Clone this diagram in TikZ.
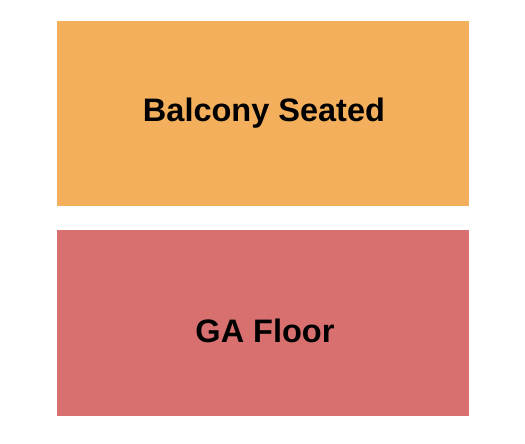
\documentclass[tikz,border=0pt]{standalone}
\usepackage{fontspec}
\setmainfont{Liberation Sans}
\definecolor{balc}{HTML}{F4AF5C}
\definecolor{floor}{HTML}{D87070}
\begin{document}
\begin{tikzpicture}[x=1pt,y=-1pt]
\tikzset{sect/.style={fill=#1,draw=none},
  lbl/.style={font=\bfseries\fontsize{32.5}{36}\selectfont,text=black,inner sep=0pt,anchor=base}}
\useasboundingbox (0,0) rectangle (525,444);
\fill[balc] (57,21) rectangle (469,206);
\fill[floor] (57,230) rectangle (469,416);
\node[lbl] (balcony) at (264,121.5) {Balcony Seated};
\node[lbl] (ga) at (265,342) {GA Floor};
\end{tikzpicture}
\end{document}
